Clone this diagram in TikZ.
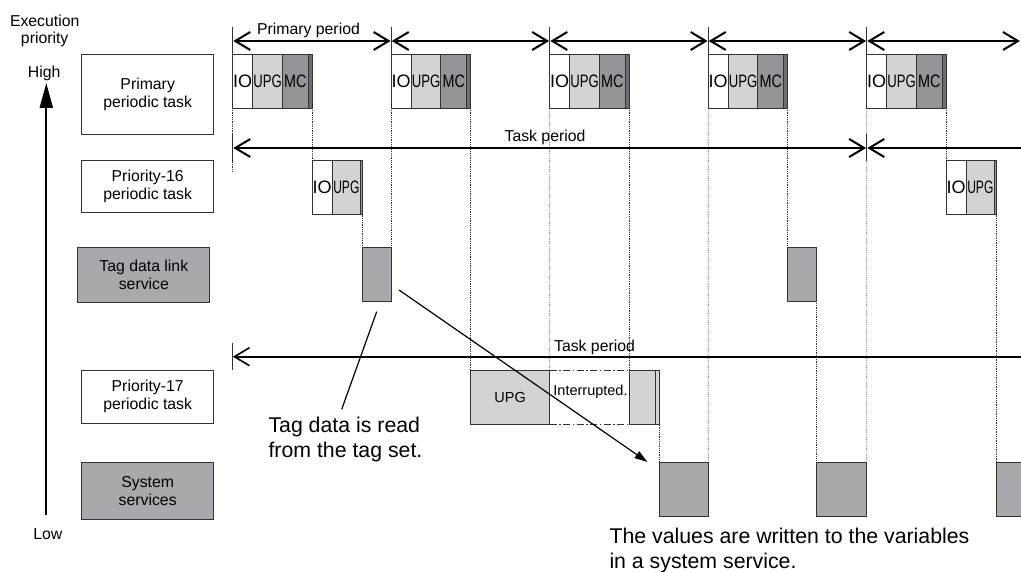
\documentclass[tikz,border=0pt]{standalone}
\usepackage{fontspec}
\setmainfont{Liberation Sans}
\usetikzlibrary{arrows.meta, positioning}

\definecolor{upggray}{HTML}{D1D3D4}
\definecolor{svcgray}{HTML}{A7A9AC}
\definecolor{mcgray}{HTML}{939598}
\definecolor{endgray}{HTML}{6D6E71}
\definecolor{inkgray}{HTML}{333333}

\newcommand\lblsize{\fontsize{15.8}{17.6}\selectfont}
\newcommand\blksize{\fontsize{18}{20}\selectfont}
\newcommand\smallsize{\fontsize{14.5}{16}\selectfont}
\newcommand\notesize{\fontsize{21.3}{25.2}\selectfont}
\newcommand\narrow[2]{\scalebox{#1}[1]{#2}}

\begin{document}
\begin{tikzpicture}[x=1pt, y=-1pt,
    >={Straight Barb[length=15pt, width=18pt]},
    label box/.style={draw=inkgray, line width=0.9pt, minimum width=132pt, inner sep=0pt,
        align=center, font=\lblsize, on grid},
    seg/.style={draw=inkgray, line width=0.9pt, minimum height=54pt, inner sep=0pt,
        outer sep=0pt, font=\blksize},
    guide/.style={draw=inkgray, line width=0.6pt, dash pattern=on 0.7pt off 1.1pt},
    cut/.style={draw=inkgray, line width=0.8pt, dash pattern=on 7pt off 2.5pt on 1.5pt off 2.5pt},
    tick/.style={draw=inkgray, line width=1.2pt},
    period/.style={line width=2pt, shorten >=0.6pt, shorten <=0.6pt},
    note/.style={font=\notesize, align=left, inner sep=0pt, anchor=north west}
]
    \useasboundingbox (0,0) rectangle (1021,572);

    % priority axis
    \node[font=\lblsize, align=center, inner sep=0pt] (exec) at (44.7,31) {Execution\\priority};
    \node[font=\lblsize, inner sep=0pt] (high) at (44.2,73) {High};
    \node[font=\lblsize, inner sep=0pt] (low) at (47.8,534) {Low};
    \coordinate (prioLow) at (46.3,515);
    \coordinate (prioHigh) at (46.3,83);
    \draw[line width=2pt, -{Triangle[length=25pt, width=13pt]}] (prioLow) -- (prioHigh);

    % task labels
    \node[label box, minimum height=80pt] (prim) at (147.7,94.3) {Primary\\periodic task};
    \node[label box, minimum height=52pt, below=92.4pt of prim] (p16) {Priority-16\\periodic task};
    \node[label box, minimum height=55.4pt, fill=svcgray, below left=88.3pt and 3.85pt of p16] (tag) {Tag data link\\service};
    \node[label box, minimum height=53.3pt, below right=121.7pt and 3.85pt of tag] (p17) {Priority-17\\periodic task};
    \node[label box, minimum height=56.3pt, fill=svcgray, below=94.1pt of p17] (sys) {System\\services};

    % rows
    \coordinate (row16) at (0,160.7);
    \coordinate (rowtag) at (0,247.3);
    \coordinate (row17) at (0,370.7);
    \coordinate (rowsys) at (0,462.7);

    % primary periodic task
    \foreach \t [count=\i] in {232.7,391.2,549.7,708.2,866.7}{
        \node[seg, minimum width=20pt, anchor=north west] (io\i) at (\t,54) {IO};
        \node[seg, fill=upggray, minimum width=29.6pt, anchor=west] (upg\i) at (io\i.east) {\narrow{0.73}{UPG}};
        \node[seg, fill=mcgray, minimum width=26pt, anchor=west] (mc\i) at (upg\i.east) {\narrow{0.8}{MC}};
        \node[seg, fill=endgray, minimum width=3.7pt, anchor=west] (end\i) at (mc\i.east) {};
        \coordinate (pp\i) at (\t,41);
        \draw[tick] (\t,27) -- (io\i.north west);
    }
    \coordinate (pp6) at (1020.5,41);
    \foreach \a/\b in {1/2,2/3,3/4,4/5,5/6}
        \draw[period, <->] (pp\a) -- (pp\b);
    \node[font=\lblsize] (pplbl) at (308.5,30) {Primary period};

    % priority-16 periodic task
    \node[seg, minimum width=20pt, anchor=north west] (io16a) at (end1.east |- row16) {IO};
    \node[seg, fill=upggray, minimum width=28.7pt, anchor=west] (upg16a) at (io16a.east) {\narrow{0.67}{UPG}};
    \node[seg, fill=mcgray, minimum width=1.7pt, anchor=west] (end16a) at (upg16a.east) {};
    \node[seg, minimum width=20pt, anchor=north west] (io16b) at (end5.east |- row16) {IO};
    \node[seg, fill=upggray, minimum width=28.7pt, anchor=west] (upg16b) at (io16b.east) {\narrow{0.67}{UPG}};
    \node[seg, fill=mcgray, minimum width=1.7pt, anchor=west] (end16b) at (upg16b.east) {};

    % tag data link service
    \node[seg, fill=svcgray, minimum width=29pt, anchor=north west] (tag1) at (end16a.east |- rowtag) {};
    \node[seg, fill=svcgray, minimum width=29.2pt, anchor=north west] (tag2) at (end4.east |- rowtag) {};

    % priority-17 periodic task
    \node[seg, fill=upggray, minimum width=79.2pt, anchor=north west, font=\smallsize] (upg17a) at (end2.east |- row17) {UPG};
    \node[seg, fill=upggray, minimum width=26.7pt, anchor=north west] (upg17b) at (end3.east |- row17) {};
    \node[seg, fill=upggray, minimum width=3.3pt, anchor=west] (end17) at (upg17b.east) {};
    \draw[cut] (upg17a.north east) -- (upg17b.north west);
    \draw[cut] (upg17a.south east) -- (upg17b.south west);
    \node[font=\smallsize, inner sep=0pt] (intr) at (590.5,392) {Interrupted.};

    % system services
    \node[seg, fill=svcgray, minimum width=49.2pt, anchor=north west] (sys1) at (end17.east |- rowsys) {};
    \node[seg, fill=svcgray, minimum width=50pt, anchor=north west] (sys2) at (tag2.east |- rowsys) {};
    \node[seg, fill=svcgray, minimum width=50pt, anchor=north west] (sys3) at (end16b.east |- rowsys) {};

    % guide lines
    \coordinate (g1) at (232.7,172);
    \draw[guide] (io1.south west) -- (g1);
    \draw[guide] (end1.south east) -- (io16a.north west);
    \draw[guide] (end16a.south east) -- (tag1.north west);
    \draw[guide] (io2.south west) -- (io2.south west |- tag1.north);
    \draw[guide] (end2.south east) -- (upg17a.north west);
    \draw[guide] (io3.south west) -- (upg17a.north east);
    \draw[guide] (end3.south east) -- (upg17b.north west);
    \draw[guide] (end17.south east) -- (sys1.north west);
    \draw[guide] (io4.south west) -- (sys1.north east);
    \draw[guide] (end4.south east) -- (tag2.north west);
    \draw[guide] (tag2.south east) -- (sys2.north west);
    \draw[guide] (io5.south west) -- (sys2.north east);
    \draw[guide] (end5.south east) -- (io16b.north west);
    \draw[guide] (end16b.south east) -- (sys3.north west);

    % task periods
    \coordinate (tp1) at (232.7,148);
    \coordinate (tp2) at (866.7,148);
    \coordinate (tp3) at (1022,148);
    \draw[tick] (232.7,134) -- (232.7,162);
    \draw[tick] (866.7,134) -- (866.7,161);
    \draw[period, <->] (tp1) -- (tp2);
    \draw[period, <-] (tp2) -- (tp3);
    \node[font=\lblsize] (tplbl) at (545,137.6) {Task period};

    \coordinate (tq1) at (232.3,356.7);
    \coordinate (tq2) at (1022,356.7);
    \draw[tick] (232.3,343) -- (232.3,370);
    \draw[period, line width=1.6pt, <-] (tq1) -- (tq2);
    \node[font=\lblsize] (tqlbl) at (594.5,347.6) {Task period};

    % notes
    \node[note] (readnote) at (268.3,416.6) {Tag data is read\\from the tag set.};
    \node[note] (writenote) at (609.3,527.4) {The values are written to the variables\\in a system service.};
    \coordinate (rdA) at (376.7,311.7);
    \coordinate (rdB) at (341.7,409.3);
    \draw[line width=1.2pt] (rdA) -- (rdB);
    \coordinate (wrA) at (399,290);
    \coordinate (wrB) at (647.5,462);
    \draw[line width=1.2pt, -{Triangle[length=13pt, width=8pt]}] (wrA) -- (wrB);
\end{tikzpicture}
\end{document}
